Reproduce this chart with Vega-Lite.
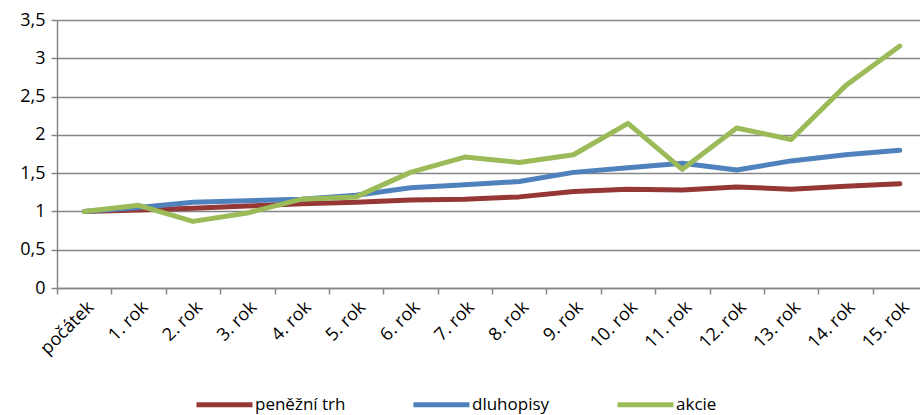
{
  "$schema": "https://vega.github.io/schema/vega-lite/v6.json",
  "width": 870,
  "height": 268,
  "autosize": {"type": "none"},
  "padding": {"left": 57, "top": 20, "right": 0, "bottom": 127},
  "config": {
    "locale": {"number": {"decimal": ",", "thousands": " ", "grouping": [3], "currency": ["", " Kč"]}},
    "view": {"stroke": null},
    "font": "Open Sans"
  },
  "datasets": {
    "d": [
      {"t": "počátek", "s": "peněžní trh", "v": 1.0},
      {"t": "1. rok", "s": "peněžní trh", "v": 1.02},
      {"t": "2. rok", "s": "peněžní trh", "v": 1.04},
      {"t": "3. rok", "s": "peněžní trh", "v": 1.07},
      {"t": "4. rok", "s": "peněžní trh", "v": 1.10},
      {"t": "5. rok", "s": "peněžní trh", "v": 1.12},
      {"t": "6. rok", "s": "peněžní trh", "v": 1.15},
      {"t": "7. rok", "s": "peněžní trh", "v": 1.16},
      {"t": "8. rok", "s": "peněžní trh", "v": 1.19},
      {"t": "9. rok", "s": "peněžní trh", "v": 1.26},
      {"t": "10. rok", "s": "peněžní trh", "v": 1.29},
      {"t": "11. rok", "s": "peněžní trh", "v": 1.28},
      {"t": "12. rok", "s": "peněžní trh", "v": 1.32},
      {"t": "13. rok", "s": "peněžní trh", "v": 1.29},
      {"t": "14. rok", "s": "peněžní trh", "v": 1.33},
      {"t": "15. rok", "s": "peněžní trh", "v": 1.36},
      {"t": "počátek", "s": "dluhopisy", "v": 1.0},
      {"t": "1. rok", "s": "dluhopisy", "v": 1.05},
      {"t": "2. rok", "s": "dluhopisy", "v": 1.12},
      {"t": "3. rok", "s": "dluhopisy", "v": 1.14},
      {"t": "4. rok", "s": "dluhopisy", "v": 1.16},
      {"t": "5. rok", "s": "dluhopisy", "v": 1.21},
      {"t": "6. rok", "s": "dluhopisy", "v": 1.31},
      {"t": "7. rok", "s": "dluhopisy", "v": 1.35},
      {"t": "8. rok", "s": "dluhopisy", "v": 1.39},
      {"t": "9. rok", "s": "dluhopisy", "v": 1.51},
      {"t": "10. rok", "s": "dluhopisy", "v": 1.57},
      {"t": "11. rok", "s": "dluhopisy", "v": 1.63},
      {"t": "12. rok", "s": "dluhopisy", "v": 1.54},
      {"t": "13. rok", "s": "dluhopisy", "v": 1.66},
      {"t": "14. rok", "s": "dluhopisy", "v": 1.74},
      {"t": "15. rok", "s": "dluhopisy", "v": 1.80},
      {"t": "počátek", "s": "akcie", "v": 1.0},
      {"t": "1. rok", "s": "akcie", "v": 1.08},
      {"t": "2. rok", "s": "akcie", "v": 0.87},
      {"t": "3. rok", "s": "akcie", "v": 0.98},
      {"t": "4. rok", "s": "akcie", "v": 1.16},
      {"t": "5. rok", "s": "akcie", "v": 1.19},
      {"t": "6. rok", "s": "akcie", "v": 1.51},
      {"t": "7. rok", "s": "akcie", "v": 1.71},
      {"t": "8. rok", "s": "akcie", "v": 1.64},
      {"t": "9. rok", "s": "akcie", "v": 1.74},
      {"t": "10. rok", "s": "akcie", "v": 2.15},
      {"t": "11. rok", "s": "akcie", "v": 1.55},
      {"t": "12. rok", "s": "akcie", "v": 2.09},
      {"t": "13. rok", "s": "akcie", "v": 1.94},
      {"t": "14. rok", "s": "akcie", "v": 2.64},
      {"t": "15. rok", "s": "akcie", "v": 3.16}
    ]
  },
  "data": {"name": "d"},
  "mark": {"type": "line", "strokeWidth": 5, "strokeCap": "round", "strokeJoin": "round"},
  "encoding": {
    "x": {
      "field": "t",
      "type": "ordinal",
      "sort": null,
      "bandPosition": 0.5,
      "scale": {"type": "band", "paddingInner": 0, "paddingOuter": 0},
      "axis": {
        "title": null,
        "tickBand": "extent",
        "labelAngle": -45,
        "labelFontSize": 18,
        "labelColor": "#000000",
        "labelPadding": 4,
        "domainColor": "#868686",
        "domainWidth": 1.5,
        "tickColor": "#868686",
        "tickWidth": 1.5,
        "tickSize": 6,
        "grid": false
      }
    },
    "y": {
      "field": "v",
      "type": "quantitative",
      "scale": {"domain": [0, 3.5], "nice": false},
      "axis": {
        "title": null,
        "values": [0, 0.5, 1, 1.5, 2, 2.5, 3, 3.5],
        "format": ".1~f",
        "labelFontSize": 18,
        "labelColor": "#000000",
        "labelPadding": 6,
        "domainColor": "#868686",
        "domainWidth": 1.5,
        "tickColor": "#868686",
        "tickWidth": 1.5,
        "tickSize": 6,
        "grid": true,
        "gridColor": "#868686",
        "gridWidth": 1.5
      }
    },
    "color": {
      "field": "s",
      "type": "nominal",
      "sort": ["peněžní trh", "dluhopisy", "akcie"],
      "scale": {"domain": ["peněžní trh", "dluhopisy", "akcie"], "range": ["#953735", "#4F81BD", "#9BBB59"]},
      "legend": {
        "title": null,
        "orient": "none",
        "direction": "horizontal",
        "legendX": 137,
        "legendY": 354,
        "symbolType": "stroke",
        "symbolSize": 3136,
        "symbolStrokeWidth": 5,
        "labelFontSize": 17,
        "labelColor": "#000000",
        "labelOffset": 0,
        "columnPadding": 57
      }
    }
  }
}
